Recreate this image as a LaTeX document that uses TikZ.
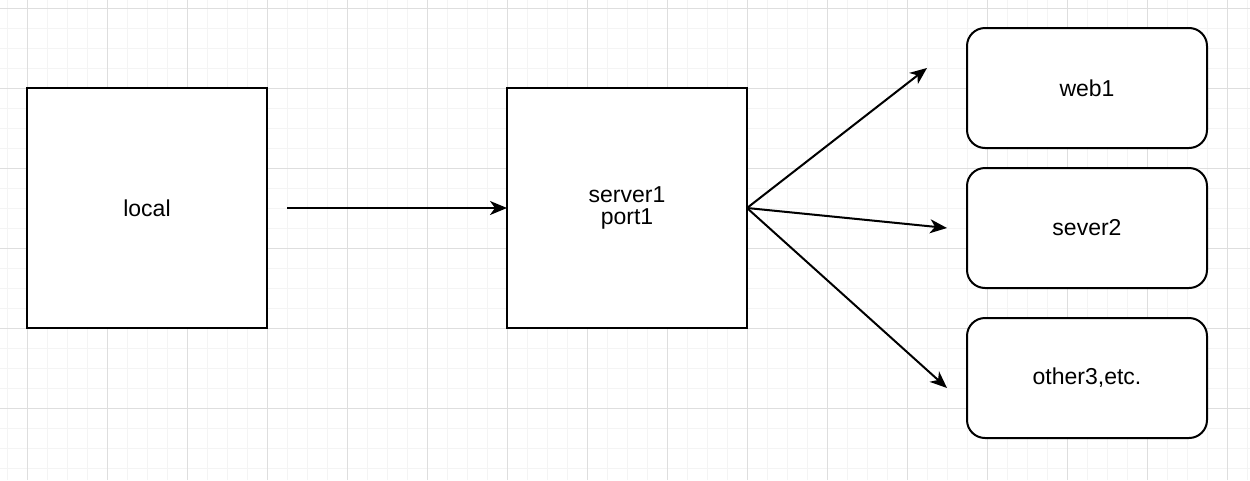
\documentclass[tikz,border=0pt]{standalone}
\usepackage{fontspec}
\setmainfont{Liberation Sans}
\usetikzlibrary{arrows.meta}
\usetikzlibrary{positioning}
\definecolor{gridminor}{HTML}{F4F4F4}
\definecolor{gridmajor}{HTML}{DEDEDE}
\tikzstyle{block} = [rectangle, minimum width=240pt, minimum height=240pt, outer sep=0pt, text centered, line width=2pt, draw=black, fill=white, font=\fontsize{23}{22}\selectfont, align=center]
\tikzstyle{target} = [rectangle, rounded corners=18pt, minimum width=240pt, minimum height=120pt, outer sep=0pt, text centered, line width=2pt, draw=black, fill=white, font=\fontsize{23}{22}\selectfont]
\tikzstyle{link} = [line width=2pt, -{Stealth[length=17pt,width=14pt,inset=5pt]}]

\begin{document}
\begin{tikzpicture}[x=1pt, y=-1pt, node distance=240pt]
  \useasboundingbox (0,0) rectangle (1250,480);
  \fill[white] (0,0) rectangle (1250,480);
  % grid
  \foreach \x in {7,27,...,1247} \draw[gridminor, line width=1pt] (\x,0) -- (\x,480);
  \foreach \y in {8,28,...,478} \draw[gridminor, line width=1pt] (0,\y) -- (1250,\y);
  \foreach \x in {27,107,...,1247} \draw[gridmajor, line width=1pt] (\x,0) -- (\x,480);
  \foreach \y in {8,88,...,478} \draw[gridmajor, line width=1pt] (0,\y) -- (1250,\y);

  \node (local) [block] at (147,208) {local};
  \node (server) [block, right=of local] {server1\\port1};

  \node (web) [target] at (1087,88) {web1};
  \node (sever) [target] at (1087,228) {sever2};
  \node (other) [target] at (1087,378) {other3,etc.};

  \coordinate (src) at (287,208);
  \coordinate (toweb) at (927,68);
  \coordinate (tosever) at (947,228);
  \coordinate (toother) at (947,388);

  \draw[link] (src) -- (server.west);
  \draw[link] (server.east) -- (toweb);
  \draw[link] (server.east) -- (tosever);
  \draw[link] (server.east) -- (toother);
\end{tikzpicture}
\end{document}
